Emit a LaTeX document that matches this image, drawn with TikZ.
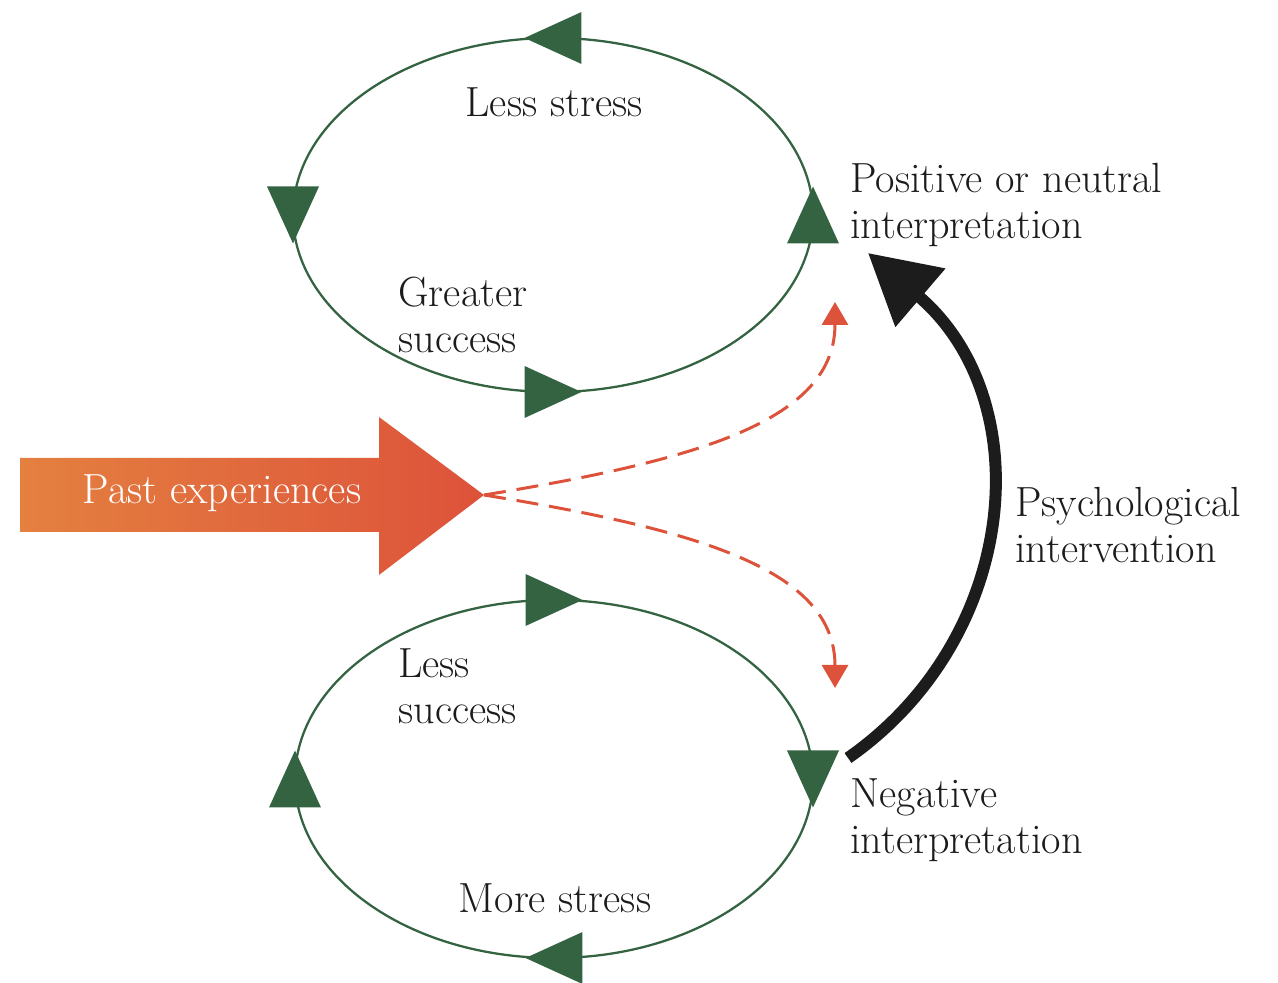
\documentclass[tikz,border=0pt]{standalone}
\usepackage{tikz}
\usetikzlibrary{arrows.meta,decorations.markings}

\definecolor{loopgreen}{RGB}{52,99,66}
\definecolor{pastred}{RGB}{221,82,58}
\definecolor{pastorange}{RGB}{228,128,64}
\definecolor{ink}{RGB}{28,28,28}

\tikzset{
  loophead/.style={fill=loopgreen},
  loopline/.style={draw=loopgreen, line width=1.3pt},
  % arrowheads centred on the four extreme points of a loop
  looparrows/.style={postaction={decorate},
    decoration={markings,
      mark=at position 0 with {\fill[loophead] (0.57cm,0) -- (-0.57cm,0.52cm) -- (-0.57cm,-0.52cm) -- cycle;},
      mark=at position 0.25 with {\fill[loophead] (0.57cm,0) -- (-0.57cm,0.52cm) -- (-0.57cm,-0.52cm) -- cycle;},
      mark=at position 0.5 with {\fill[loophead] (0.57cm,0) -- (-0.57cm,0.52cm) -- (-0.57cm,-0.52cm) -- cycle;},
      mark=at position 0.75 with {\fill[loophead] (0.57cm,0) -- (-0.57cm,0.52cm) -- (-0.57cm,-0.52cm) -- cycle;}}},
  label/.style={inner sep=0pt, text=ink, align=left, font=\fontsize{24}{26.2}\selectfont},
  guess/.style={draw=pastred, line width=1.7pt, dash pattern=on 0.44cm off 0.22cm,
    -{Triangle[length=0.46cm,width=0.52cm]}}
}

\begin{document}
\begin{tikzpicture}[x=0.02cm,y=0.02cm]
  \useasboundingbox (0,0) rectangle (1278,983);

  % Upper loop (counterclockwise)
  \draw[loopline, looparrows] (553,768) ellipse [x radius=260, y radius=177];

  % Lower loop (clockwise)
  \draw[loopline, looparrows] (813,204) arc [start angle=0, end angle=-360, x radius=259, y radius=179];

  % Past experiences arrow
  \shade[left color=pastorange, middle color=pastred, right color=pastred]
    (20,451) -- (379,451) -- (379,408) -- (484,488) -- (379,566) -- (379,525) -- (20,525) -- cycle;
  \coordinate (pasttip) at (484,488);
  \node[label, text=white] (past) at (222,490) {Past experiences};

  % Loop labels
  \node[label] (lessstress) at (554,881) {Less stress};
  \node[label, anchor=west] (greater) at (398,668) {Greater\\success};
  \node[label, anchor=west] (lesssuccess) at (398,297) {Less\\success};
  \node[label] (morestress) at (555,85) {More stress};

  % Interpretations
  \node[label, anchor=west] (positive) at (850,778) {Positive or neutral\\interpretation};
  \node[label, anchor=west] (negative) at (850,163) {Negative\\interpretation};
  \node[label, anchor=west] (psych) at (1015,458) {Psychological\\intervention};

  % Dashed red paths
  \coordinate (uptip) at (835,681);
  \coordinate (downtip) at (835,295);
  \draw[guess] (pasttip) .. controls (700,523) and (835,563) .. (uptip);
  \draw[guess] (pasttip) .. controls (700,453) and (835,413) .. (downtip);

  % Intervention arrow
  \coordinate (negstart) at (848,225);
  \coordinate (posend) at (868,730);
  \draw[ink, line width=0.24cm, -{Triangle[length=1.38cm,width=1.48cm]}]
    (negstart) .. controls (1020,345) and (1040,583) .. (posend);
\end{tikzpicture}
\end{document}
